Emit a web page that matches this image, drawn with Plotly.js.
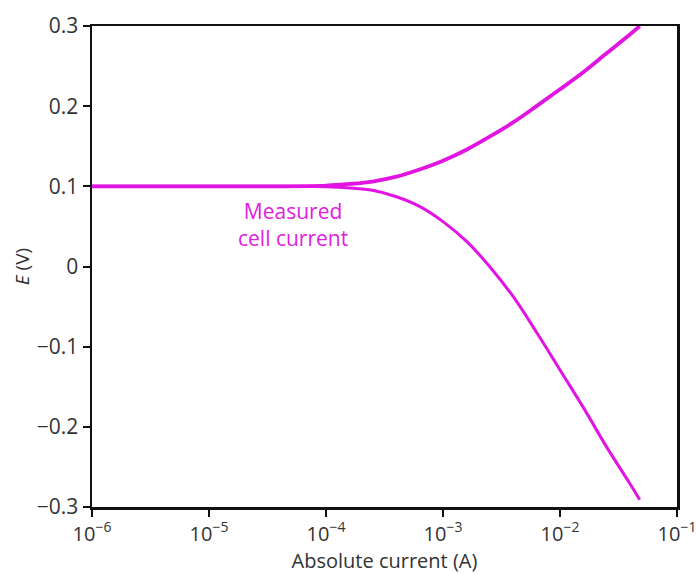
<!DOCTYPE html>
<html>
<head>
<meta charset="utf-8">
<script src="https://cdn.plot.ly/plotly-3.0.1.min.js"></script>
<style>
html,body{margin:0;padding:0;background:#fff;}
#chart{width:697px;height:574px;}
</style>
</head>
<body>
<div id="chart"></div>
<script>
// Anodic (upper) branch: absolute current (A) and potential (V)
const anodicCurrent = [1e-6, 1e-5, 3.2e-5, 1e-4, 1.6e-4, 2.5e-4, 4e-4, 6.3e-4, 1e-3, 1.6e-3, 2.5e-3, 4e-3, 6.3e-3, 1e-2, 1.6e-2, 2.5e-2, 4e-2, 4.8e-2];
const anodicE       = [0.100, 0.100, 0.100, 0.101, 0.103, 0.106, 0.112, 0.121, 0.132, 0.146, 0.162, 0.180, 0.200, 0.221, 0.243, 0.266, 0.290, 0.300];

// Cathodic (lower) branch
const cathodicCurrent = [1e-6, 1e-5, 3.2e-5, 1e-4, 1.6e-4, 2.5e-4, 4e-4, 6.3e-4, 1e-3, 1.6e-3, 2.5e-3, 4e-3, 6.3e-3, 1e-2, 1.6e-2, 2.5e-2, 4e-2, 4.8e-2];
const cathodicE       = [0.100, 0.100, 0.100, 0.0995, 0.098, 0.095, 0.087, 0.075, 0.056, 0.031, 0.000, -0.038, -0.082, -0.129, -0.177, -0.225, -0.272, -0.291];

const xTickVals = [1e-6, 1e-5, 1e-4, 1e-3, 1e-2, 1e-1];
const xTickText = ['10<sup>\u22126</sup>', '10<sup>\u22125</sup>', '10<sup>\u22124</sup>', '10<sup>\u22123</sup>', '10<sup>\u22122</sup>', '10<sup>\u22121</sup>'];
const yTickVals = [-0.3, -0.2, -0.1, 0, 0.1, 0.2, 0.3];
const yTickText = ['\u22120.3', '\u22120.2', '\u22120.1', '0', '0.1', '0.2', '0.3'];

const lineColor = '#e214e2';

const traces = [
  {x: anodicCurrent, y: anodicE, type: 'scatter', mode: 'lines',
   line: {color: lineColor, width: 3.8, shape: 'spline', smoothing: 1}, hoverinfo: 'x+y'},
  {x: cathodicCurrent, y: cathodicE, type: 'scatter', mode: 'lines',
   line: {color: lineColor, width: 3, shape: 'spline', smoothing: 1}, hoverinfo: 'x+y'}
];

const fontFam = 'Open Sans, sans-serif';

const layout = {
  width: 697, height: 574,
  margin: {l: 92, r: 20, t: 26, b: 67},
  paper_bgcolor: '#fff', plot_bgcolor: '#fff',
  showlegend: false,
  font: {family: fontFam, color: '#333', size: 20},
  xaxis: {
    type: 'log', range: [-6, -1],
    tickvals: xTickVals, ticktext: xTickText,
    ticks: 'outside', ticklen: 7, tickwidth: 2, tickcolor: '#111',
    ticklabeloverflow: 'allow',
    showline: true, linecolor: '#111', linewidth: 2.5, mirror: true,
    showgrid: false, zeroline: false,
    tickfont: {size: 20, color: '#333', family: fontFam},
    title: {text: 'Absolute current (A)', font: {size: 20, color: '#333', family: fontFam}, standoff: 2}
  },
  yaxis: {
    range: [-0.3, 0.3],
    tickvals: yTickVals, ticktext: yTickText,
    ticks: 'outside', ticklen: 7, tickwidth: 2, tickcolor: '#111',
    showline: true, linecolor: '#111', linewidth: 2.5, mirror: true,
    showgrid: false, zeroline: false,
    tickfont: {size: 21, color: '#333', family: fontFam},
    title: {text: '<i>E</i> (V)', font: {size: 19, color: '#333', family: fontFam}, standoff: 2}
  },
  annotations: [
    {x: Math.log10(5.2e-5), y: 0.053, xref: 'x', yref: 'y',
     text: 'Measured<br>cell current', showarrow: false, align: 'center',
     font: {size: 21, color: '#e020e0', family: fontFam}}
  ]
};

Plotly.newPlot('chart', traces, layout, {displayModeBar: false, staticPlot: true});
</script>
</body>
</html>
